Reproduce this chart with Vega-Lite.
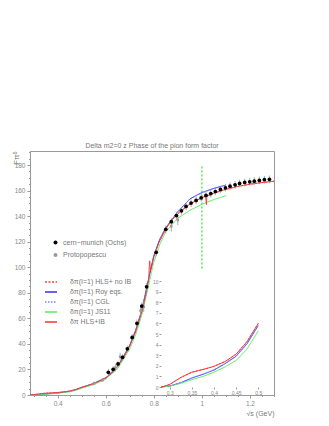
{
  "$schema": "https://vega.github.io/schema/vega-lite/v6.json",
  "autosize": "none",
  "width": 244,
  "height": 244,
  "padding": {"left": 30, "top": 151, "right": 55, "bottom": 31},
  "background": "white",
  "config": {
    "font": "Liberation Sans",
    "view": {"stroke": "#999", "strokeWidth": 1},
    "axis": {"labelColor": "#888", "titleColor": "#777", "domainColor": "#999", "tickColor": "#999", "labelFont": "Liberation Sans", "titleFont": "Liberation Sans", "grid": false, "titleFontWeight": "normal", "labelOverlap": false, "labelFlush": false},
    "legend": {"labelColor": "#777", "labelFont": "Liberation Sans"}
  },
  "title": {"text": "Delta m2=0 z Phase of the pion form factor", "fontSize": 7, "font": "Liberation Sans", "fontWeight": "normal", "color": "#777", "offset": 2},
  "datasets": {
    "ochs": [
      {"x": 0.611, "y": 17.8, "e": 2.5}, {"x": 0.631, "y": 20.1, "e": 2.5}, {"x": 0.651, "y": 24.3, "e": 2.5},
      {"x": 0.67, "y": 29.5, "e": 2.5}, {"x": 0.69, "y": 36.2, "e": 2.5}, {"x": 0.71, "y": 45.1, "e": 2.5},
      {"x": 0.73, "y": 56.1, "e": 3}, {"x": 0.75, "y": 69.6, "e": 3}, {"x": 0.77, "y": 84.7, "e": 3},
      {"x": 0.81, "y": 111.7, "e": 3}, {"x": 0.85, "y": 129.7, "e": 3}, {"x": 0.873, "y": 135.7, "e": 3},
      {"x": 0.894, "y": 140.5, "e": 3}, {"x": 0.915, "y": 144.2, "e": 3}, {"x": 0.934, "y": 147.6, "e": 3},
      {"x": 0.955, "y": 150.2, "e": 3}, {"x": 0.976, "y": 152.3, "e": 3}, {"x": 0.997, "y": 154.4, "e": 3},
      {"x": 1.017, "y": 156.2, "e": 3}, {"x": 1.037, "y": 157.7, "e": 3}, {"x": 1.056, "y": 159.3, "e": 3},
      {"x": 1.077, "y": 160.9, "e": 3}, {"x": 1.098, "y": 162.2, "e": 3}, {"x": 1.117, "y": 163.5, "e": 3},
      {"x": 1.138, "y": 164.5, "e": 3}, {"x": 1.157, "y": 165.6, "e": 3}, {"x": 1.178, "y": 166.4, "e": 3},
      {"x": 1.199, "y": 166.9, "e": 3}, {"x": 1.218, "y": 167.4, "e": 3}, {"x": 1.239, "y": 168.0, "e": 3},
      {"x": 1.26, "y": 168.5, "e": 3}, {"x": 1.281, "y": 168.8, "e": 3}
    ],
    "proto": [
      {"x": 0.552, "y": 9.2, "e": 1.5}, {"x": 0.587, "y": 11.7, "e": 1.5}, {"x": 0.64, "y": 21.5, "e": 3},
      {"x": 0.66, "y": 30, "e": 3}, {"x": 0.745, "y": 66, "e": 4}, {"x": 0.758, "y": 69, "e": 4},
      {"x": 0.873, "y": 132, "e": 4}, {"x": 0.9, "y": 137, "e": 4}
    ],
    "curves": [
      {"m": "hlsnoib", "x": 0.28, "y": 0}, {"m": "hlsnoib", "x": 0.29, "y": 0.1}, {"m": "hlsnoib", "x": 0.3, "y": 0.25},
      {"m": "hlsnoib", "x": 0.325, "y": 0.9}, {"m": "hlsnoib", "x": 0.35, "y": 1.4}, {"m": "hlsnoib", "x": 0.375, "y": 1.65},
      {"m": "hlsnoib", "x": 0.4, "y": 1.95}, {"m": "hlsnoib", "x": 0.425, "y": 2.4}, {"m": "hlsnoib", "x": 0.45, "y": 3.1},
      {"m": "hlsnoib", "x": 0.475, "y": 4.3}, {"m": "hlsnoib", "x": 0.5, "y": 6.0}, {"m": "hlsnoib", "x": 0.55, "y": 9.0},
      {"m": "hlsnoib", "x": 0.6, "y": 13.5}, {"m": "hlsnoib", "x": 0.625, "y": 17}, {"m": "hlsnoib", "x": 0.65, "y": 22.5},
      {"m": "hlsnoib", "x": 0.675, "y": 29.5}, {"m": "hlsnoib", "x": 0.7, "y": 38.5}, {"m": "hlsnoib", "x": 0.725, "y": 50},
      {"m": "hlsnoib", "x": 0.75, "y": 65}, {"m": "hlsnoib", "x": 0.765, "y": 77}, {"m": "hlsnoib", "x": 0.775, "y": 87},
      {"m": "hlsnoib", "x": 0.785, "y": 96}, {"m": "hlsnoib", "x": 0.8, "y": 108}, {"m": "hlsnoib", "x": 0.82, "y": 119},
      {"m": "hlsnoib", "x": 0.85, "y": 130}, {"m": "hlsnoib", "x": 0.875, "y": 137}, {"m": "hlsnoib", "x": 0.9, "y": 142},
      {"m": "hlsnoib", "x": 0.95, "y": 149.5}, {"m": "hlsnoib", "x": 1.0, "y": 154.5}, {"m": "hlsnoib", "x": 1.05, "y": 158},
      {"m": "hlsnoib", "x": 1.1, "y": 161}, {"m": "hlsnoib", "x": 1.15, "y": 163.3}, {"m": "hlsnoib", "x": 1.2, "y": 165},
      {"m": "hlsnoib", "x": 1.25, "y": 166.3}, {"m": "hlsnoib", "x": 1.3, "y": 167.3},

      {"m": "roy", "x": 0.28, "y": 0}, {"m": "roy", "x": 0.3, "y": 0.1}, {"m": "roy", "x": 0.325, "y": 0.4},
      {"m": "roy", "x": 0.35, "y": 0.85}, {"m": "roy", "x": 0.375, "y": 1.2}, {"m": "roy", "x": 0.4, "y": 1.6},
      {"m": "roy", "x": 0.425, "y": 2.2}, {"m": "roy", "x": 0.45, "y": 2.9}, {"m": "roy", "x": 0.475, "y": 4.1},
      {"m": "roy", "x": 0.5, "y": 5.8}, {"m": "roy", "x": 0.55, "y": 8.8}, {"m": "roy", "x": 0.6, "y": 13.2},
      {"m": "roy", "x": 0.65, "y": 22.5}, {"m": "roy", "x": 0.7, "y": 39}, {"m": "roy", "x": 0.725, "y": 51},
      {"m": "roy", "x": 0.75, "y": 66.5}, {"m": "roy", "x": 0.775, "y": 88}, {"m": "roy", "x": 0.8, "y": 109},
      {"m": "roy", "x": 0.825, "y": 122}, {"m": "roy", "x": 0.85, "y": 131}, {"m": "roy", "x": 0.9, "y": 143.5},
      {"m": "roy", "x": 0.95, "y": 153.5}, {"m": "roy", "x": 1.0, "y": 158.5}, {"m": "roy", "x": 1.05, "y": 161.8},
      {"m": "roy", "x": 1.1, "y": 164.3},

      {"m": "cgl", "x": 0.28, "y": 0}, {"m": "cgl", "x": 0.3, "y": 0.1}, {"m": "cgl", "x": 0.325, "y": 0.42},
      {"m": "cgl", "x": 0.35, "y": 0.87}, {"m": "cgl", "x": 0.375, "y": 1.22}, {"m": "cgl", "x": 0.4, "y": 1.63},
      {"m": "cgl", "x": 0.425, "y": 2.22}, {"m": "cgl", "x": 0.45, "y": 2.95}, {"m": "cgl", "x": 0.475, "y": 4.15},
      {"m": "cgl", "x": 0.5, "y": 5.85}, {"m": "cgl", "x": 0.55, "y": 8.9}, {"m": "cgl", "x": 0.6, "y": 13.3},
      {"m": "cgl", "x": 0.65, "y": 22.6}, {"m": "cgl", "x": 0.7, "y": 39}, {"m": "cgl", "x": 0.725, "y": 51},
      {"m": "cgl", "x": 0.75, "y": 66.5}, {"m": "cgl", "x": 0.775, "y": 88}, {"m": "cgl", "x": 0.8, "y": 109},
      {"m": "cgl", "x": 0.825, "y": 122}, {"m": "cgl", "x": 0.85, "y": 131}, {"m": "cgl", "x": 0.9, "y": 143.5},
      {"m": "cgl", "x": 0.95, "y": 153.3}, {"m": "cgl", "x": 1.0, "y": 158.2}, {"m": "cgl", "x": 1.05, "y": 161.6},
      {"m": "cgl", "x": 1.1, "y": 164.1},

      {"m": "js11", "x": 0.28, "y": 0}, {"m": "js11", "x": 0.3, "y": 0.08}, {"m": "js11", "x": 0.325, "y": 0.35},
      {"m": "js11", "x": 0.35, "y": 0.7}, {"m": "js11", "x": 0.375, "y": 1.0}, {"m": "js11", "x": 0.4, "y": 1.4},
      {"m": "js11", "x": 0.425, "y": 1.9}, {"m": "js11", "x": 0.45, "y": 2.5}, {"m": "js11", "x": 0.475, "y": 3.6},
      {"m": "js11", "x": 0.5, "y": 5.3}, {"m": "js11", "x": 0.55, "y": 8.2}, {"m": "js11", "x": 0.6, "y": 12.3},
      {"m": "js11", "x": 0.65, "y": 20.8}, {"m": "js11", "x": 0.7, "y": 36}, {"m": "js11", "x": 0.725, "y": 47.5},
      {"m": "js11", "x": 0.75, "y": 62.5}, {"m": "js11", "x": 0.775, "y": 83}, {"m": "js11", "x": 0.8, "y": 104},
      {"m": "js11", "x": 0.825, "y": 118}, {"m": "js11", "x": 0.85, "y": 128}, {"m": "js11", "x": 0.9, "y": 138.5},
      {"m": "js11", "x": 0.95, "y": 144.5}, {"m": "js11", "x": 1.0, "y": 149.3}, {"m": "js11", "x": 1.05, "y": 153},
      {"m": "js11", "x": 1.1, "y": 156},

      {"m": "hlsib", "x": 0.28, "y": 0}, {"m": "hlsib", "x": 0.29, "y": 0.1}, {"m": "hlsib", "x": 0.3, "y": 0.25},
      {"m": "hlsib", "x": 0.325, "y": 0.9}, {"m": "hlsib", "x": 0.35, "y": 1.4}, {"m": "hlsib", "x": 0.375, "y": 1.65},
      {"m": "hlsib", "x": 0.4, "y": 1.95}, {"m": "hlsib", "x": 0.425, "y": 2.4}, {"m": "hlsib", "x": 0.45, "y": 3.1},
      {"m": "hlsib", "x": 0.475, "y": 4.3}, {"m": "hlsib", "x": 0.5, "y": 6.0}, {"m": "hlsib", "x": 0.55, "y": 9.0},
      {"m": "hlsib", "x": 0.6, "y": 13.5}, {"m": "hlsib", "x": 0.625, "y": 17}, {"m": "hlsib", "x": 0.65, "y": 22.5},
      {"m": "hlsib", "x": 0.675, "y": 29.5}, {"m": "hlsib", "x": 0.7, "y": 38.5}, {"m": "hlsib", "x": 0.725, "y": 50},
      {"m": "hlsib", "x": 0.75, "y": 65}, {"m": "hlsib", "x": 0.765, "y": 77}, {"m": "hlsib", "x": 0.775, "y": 87},
      {"m": "hlsib", "x": 0.779, "y": 91}, {"m": "hlsib", "x": 0.781, "y": 100}, {"m": "hlsib", "x": 0.783, "y": 105},
      {"m": "hlsib", "x": 0.786, "y": 97}, {"m": "hlsib", "x": 0.8, "y": 108}, {"m": "hlsib", "x": 0.82, "y": 119},
      {"m": "hlsib", "x": 0.85, "y": 130}, {"m": "hlsib", "x": 0.875, "y": 137}, {"m": "hlsib", "x": 0.9, "y": 142},
      {"m": "hlsib", "x": 0.95, "y": 149.5}, {"m": "hlsib", "x": 1.0, "y": 154.5}, {"m": "hlsib", "x": 1.015, "y": 155.6},
      {"m": "hlsib", "x": 1.019, "y": 149}, {"m": "hlsib", "x": 1.021, "y": 157}, {"m": "hlsib", "x": 1.025, "y": 155.9},
      {"m": "hlsib", "x": 1.05, "y": 158}, {"m": "hlsib", "x": 1.1, "y": 161}, {"m": "hlsib", "x": 1.15, "y": 163.3},
      {"m": "hlsib", "x": 1.2, "y": 165}, {"m": "hlsib", "x": 1.25, "y": 166.3}, {"m": "hlsib", "x": 1.3, "y": 167.3}
    ]
  },
  "layer": [
    {
      "data": {"name": "ochs"},
      "mark": {"type": "point", "opacity": 0},
      "encoding": {
        "x": {"field": "x", "type": "quantitative", "scale": {"domain": [0.285, 1.3], "nice": false, "zero": false},
          "axis": {"orient": "bottom", "values": [0.3, 0.35, 0.45, 0.5, 0.55, 0.65, 0.7, 0.75, 0.85, 0.9, 0.95, 1.05, 1.1, 1.15, 1.25, 1.3], "labels": false, "domain": false, "tickSize": 1.5, "title": null}},
        "y": {"field": "y", "type": "quantitative", "scale": {"domain": [0, 191], "nice": false},
          "axis": {"orient": "left", "values": [5, 10, 15, 25, 30, 35, 45, 50, 55, 65, 70, 75, 85, 90, 95, 105, 110, 115, 125, 130, 135, 145, 150, 155, 165, 170, 175, 185, 190], "labels": false, "domain": false, "tickSize": 1.5, "title": null}}
      }
    },
    {
      "data": {"name": "ochs"},
      "mark": {"type": "point", "opacity": 0},
      "encoding": {
        "x": {"field": "x", "type": "quantitative", "scale": {"domain": [0.285, 1.3], "nice": false, "zero": false}, "axis": null},
        "y": {"field": "y", "type": "quantitative", "scale": {"domain": [0, 191], "nice": false},
          "axis": {"orient": "left", "values": [20, 60, 100, 140, 180], "labelFontSize": 6.5, "tickSize": 3, "labelPadding": 2, "domain": false, "title": null}}
      }
    },
    {
      "layer": [
        {
          "data": {"values": [{"x": 1.0, "y1": 99, "y2": 180}]},
          "mark": {"type": "rule", "color": "#55ee55", "strokeDash": [2, 2], "strokeWidth": 1.5},
          "encoding": {
            "x": {"field": "x", "type": "quantitative"},
            "y": {"field": "y1", "type": "quantitative"},
            "y2": {"field": "y2"}
          }
        },
        {
          "data": {"name": "curves"},
          "mark": {"type": "line", "strokeWidth": 1, "clip": true},
          "encoding": {
            "x": {"field": "x", "type": "quantitative", "scale": {"domain": [0.285, 1.3], "nice": false, "zero": false},
              "axis": {"orient": "bottom", "values": [0.4, 0.6, 0.8, 1.0, 1.2], "format": "~g", "labelFontSize": 6.5, "tickSize": 3, "labelPadding": 2, "title": "√s (GeV)", "titleFontSize": 7, "titleAnchor": "end", "titlePadding": 3}},
            "y": {"field": "y", "type": "quantitative", "scale": {"domain": [0, 191], "nice": false},
              "axis": {"orient": "left", "values": [0, 40, 80, 120, 160], "labelFontSize": 6.5, "tickSize": 3, "labelPadding": 2, "title": "Fπᵟ", "titleFontSize": 8, "titleAngle": -90, "titleAlign": "right", "titleX": -14, "titleY": 0, "titleBaseline": "middle"}},
            "stroke": {"field": "m", "type": "nominal",
              "scale": {"domain": ["hlsnoib", "roy", "cgl", "js11", "hlsib"], "range": ["#ff4040", "#3030ff", "#8080ff", "#55ee55", "#ff3030"]},
              "legend": {"orient": "none", "legendX": 14, "legendY": 124, "title": null, "symbolType": "stroke", "symbolSize": 144, "symbolStrokeWidth": 1.5, "labelFontSize": 7, "labelOffset": 12, "rowPadding": 0,
                "labelExpr": "{'hlsnoib': 'δπ(I=1) HLS+ no IB', 'roy': 'δπ(I=1) Roy eqs.', 'cgl': 'δπ(I=1) CGL', 'js11': 'δπ(I=1) JS11', 'hlsib': 'δπ  HLS+IB'}[datum.value]"}},
            "strokeDash": {"field": "m", "type": "nominal",
              "scale": {"domain": ["hlsnoib", "roy", "cgl", "js11", "hlsib"], "range": [[2, 1.5], [1, 0], [1.5, 1.5], [1, 0], [1, 0]]},
              "legend": null}
          }
        },
        {
          "data": {"name": "proto"},
          "mark": {"type": "rule", "color": "#999", "strokeWidth": 0.8},
          "transform": [{"calculate": "datum.y - datum.e", "as": "lo"}, {"calculate": "datum.y + datum.e", "as": "hi"}],
          "encoding": {
            "x": {"field": "x", "type": "quantitative"},
            "y": {"field": "lo", "type": "quantitative"},
            "y2": {"field": "hi"}
          }
        },
        {
          "data": {"name": "ochs"},
          "mark": {"type": "rule", "color": "#999", "strokeWidth": 0.8},
          "transform": [{"calculate": "datum.y - datum.e", "as": "lo"}, {"calculate": "datum.y + datum.e", "as": "hi"}],
          "encoding": {
            "x": {"field": "x", "type": "quantitative"},
            "y": {"field": "lo", "type": "quantitative"},
            "y2": {"field": "hi"}
          }
        },
        {
          "data": {"name": "proto"},
          "transform": [{"calculate": "'Protopopescu'", "as": "set"}],
          "mark": {"type": "point", "filled": true, "size": 6, "shape": "square", "opacity": 1},
          "encoding": {
            "x": {"field": "x", "type": "quantitative"},
            "y": {"field": "y", "type": "quantitative"},
            "fill": {"field": "set", "type": "nominal", "scale": {"domain": ["cern−munich (Ochs)", "Protopopescu"], "range": ["#000", "#999"]},
              "legend": {"orient": "none", "legendX": 22, "legendY": 88, "title": null, "symbolType": "circle", "symbolSize": 16, "symbolStrokeWidth": 0, "labelFontSize": 7, "labelOffset": 4, "rowPadding": 4.5}}
          }
        },
        {
          "data": {"name": "ochs"},
          "transform": [{"calculate": "'cern−munich (Ochs)'", "as": "set"}],
          "mark": {"type": "point", "filled": true, "size": 14, "shape": "circle", "opacity": 1},
          "encoding": {
            "x": {"field": "x", "type": "quantitative"},
            "y": {"field": "y", "type": "quantitative"},
            "fill": {"field": "set", "type": "nominal"}
          }
        }
      ]
    },
    {
      "layer": [
        {
          "mark": {"type": "rect", "fill": "white", "stroke": "#999", "strokeWidth": 1},
          "encoding": {
            "x": {"datum": 0.28, "type": "quantitative"},
            "x2": {"datum": 0.504},
            "y": {"datum": 0, "type": "quantitative"},
            "y2": {"datum": 10}
          }
        },
        {
          "data": {"name": "curves"},
          "transform": [{"filter": "datum.x <= 0.5"}],
          "mark": {"type": "line", "strokeWidth": 1},
          "encoding": {
            "x": {"field": "x", "type": "quantitative",
              "scale": {"domain": [0.28, 0.504], "range": [131, 230], "nice": false, "zero": false},
              "axis": {"orient": "bottom", "offset": -8, "values": [0.3, 0.35, 0.4, 0.45, 0.5], "format": "~g", "labelFontSize": 5, "tickSize": 2, "labelPadding": 1, "domain": false, "title": null}},
            "y": {"field": "y", "type": "quantitative",
              "scale": {"domain": [0, 10], "range": [236, 130], "nice": false},
              "axis": {"orient": "left", "offset": -131, "values": [0, 2, 4, 6, 8, 10], "labelFontSize": 5, "tickSize": 2, "labelPadding": 1, "domain": false, "title": null}},
            "stroke": {"field": "m", "type": "nominal", "legend": null},
            "strokeDash": {"field": "m", "type": "nominal", "legend": null}
          }
        }
      ]
    },
    {
      "data": {"name": "curves"},
      "transform": [{"filter": "datum.x <= 0.5"}],
      "mark": {"type": "point", "opacity": 0},
      "encoding": {
        "x": {"field": "x", "type": "quantitative", "scale": {"domain": [0.28, 0.504], "range": [131, 230], "nice": false, "zero": false}, "axis": null},
        "y": {"field": "y", "type": "quantitative", "scale": {"domain": [0, 10], "range": [236, 130], "nice": false},
          "axis": {"orient": "left", "offset": -131, "values": [1, 3, 5, 7, 9], "labelFontSize": 5, "tickSize": 2, "labelPadding": 1, "domain": false, "title": null}}
      }
    }
  ],
  "resolve": {"scale": {"x": "independent", "y": "independent"}}
}
